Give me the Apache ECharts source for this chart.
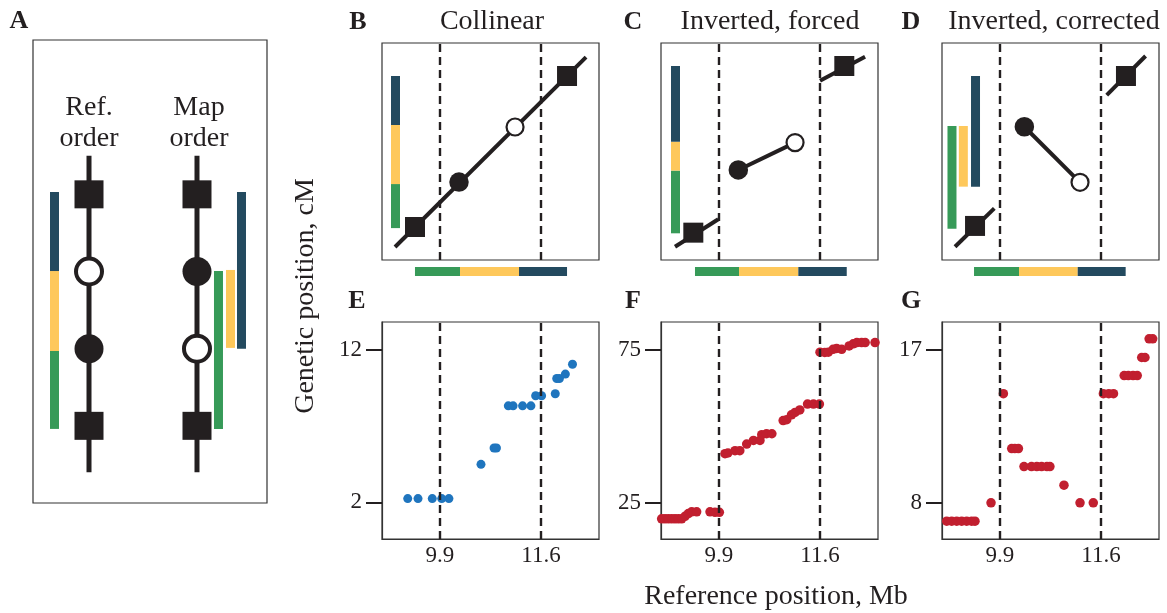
<!DOCTYPE html>
<html><head><meta charset="utf-8">
<script src="https://cdn.jsdelivr.net/npm/echarts@6/dist/echarts.min.js"></script>
<style>html,body{margin:0;padding:0;background:#fff}#c{width:1167px;height:613px}</style>
</head><body><div id="c"></div>
<script>
// ---------------- DATA ----------------
// Shared reference-position axis (Mb) and inversion breakpoints
const xMin = 8.924, xMax = 12.576;
const breakpoints = [9.9, 11.6];
const xTickValues = [9.9, 11.6];

// Panel A (schematic): columns, marker ranks, marker kinds, colored spans
const aColumnX = [1.436, 4.205];
const aMarkerY = [1, 2, 3, 4];
const aRefKinds = ['square', 'filled', 'open', 'square'];
const aMapKinds = ['square', 'open', 'filled', 'square'];
const aSpineY = [0.4, 4.5];
const aBars = [ // [x, yFrom, yTo, segment]
  [0.551, 0.96, 1.97, 'green'], [0.551, 1.97, 3.006, 'yellow'], [0.551, 3.006, 4.03, 'blue'],
  [4.756, 0.96, 3.006, 'green'], [5.064, 2.01, 3.02, 'yellow'], [5.346, 2.0, 4.03, 'blue']
];

// Panels B-D (schematics)
const topKinds = ['square', 'filled', 'open', 'square'];
const bLines = [[[9.143, 6.0], [12.358, 93.5]]];
const bMarkX = [9.479, 10.22, 11.163, 12.038];
const bMarkY = [15.2, 35.9, 61.3, 84.8];
const bSideBars = [[9.151, 14.7, 35.0, 'green'], [9.151, 35.0, 62.2, 'yellow'], [9.151, 62.2, 84.8, 'blue']];
const bBaseBars = [[-5.3, 9.479, 10.237, 'green'], [-5.3, 10.237, 11.23, 'yellow'], [-5.3, 11.23, 12.038, 'blue']];

const cLines = [[[9.16, 6.1], [9.888, 18.8]], [[10.225, 41.5], [11.18, 54.1]], [[11.60, 82.6], [12.358, 93.7]]];
const cMarkX = [9.468, 10.225, 11.18, 12.009];
const cMarkY = [12.6, 41.5, 54.1, 89.4];
const cSideBars = [[9.168, 12.3, 41.2, 'green'], [9.168, 41.2, 54.5, 'yellow'], [9.168, 54.5, 89.4, 'blue']];
const cBaseBars = [[-5.3, 9.496, 10.237, 'green'], [-5.3, 10.237, 11.235, 'yellow'], [-5.3, 11.235, 12.05, 'blue']];

const dLines = [[[9.143, 6.1], [9.804, 23.8]], [[10.31, 61.4], [11.247, 35.8]], [[11.696, 76.0], [12.35, 94.0]]];
const dMarkX = [9.48, 10.31, 11.247, 12.02];
const dMarkY = [15.7, 61.4, 35.8, 84.8];
const dSideBars = [[9.092, 14.4, 61.75, 'green'], [9.283, 33.8, 61.75, 'yellow'], [9.488, 33.8, 84.8, 'blue']];
const dBaseBars = [[-5.3, 9.463, 10.22, 'green'], [-5.3, 10.22, 11.208, 'yellow'], [-5.3, 11.208, 12.015, 'blue']];

// Panel E (collinear data)
const eX = [9.357, 9.53, 9.77, 9.929, 10.05, 10.59, 10.81, 10.85, 11.05, 11.13, 11.29, 11.43, 11.51, 11.61, 11.84, 11.865, 11.91, 12.01, 12.13];
const eY = [2.24, 2.24, 2.24, 2.24, 2.24, 4.49, 5.56, 5.56, 8.33, 8.33, 8.33, 8.33, 8.99, 8.99, 9.12, 10.12, 10.12, 10.41, 11.06];
const eYRange = [-0.41, 13.83];
const eYTicks = [2, 12];

// Panel F (inverted, forced)
const fX = [8.935, 8.991, 9.047, 9.104, 9.16, 9.216, 9.272, 9.328, 9.384, 9.44, 9.524, 9.749, 9.833, 9.906,
  10.001, 10.05, 10.17, 10.25, 10.366, 10.48, 10.59, 10.62, 10.70, 10.79, 10.98, 11.04, 11.12, 11.18, 11.26, 11.39, 11.49, 11.59,
  11.60, 11.68, 11.74, 11.82, 11.88, 11.965, 12.09, 12.16, 12.22, 12.30, 12.36, 12.526];
const fY = [19.8, 19.8, 19.8, 19.8, 19.8, 19.8, 19.8, 20.6, 21.5, 22.06, 22.06, 22.06, 21.9, 21.9,
  41.1, 41.3, 42.06, 42.06, 44.24, 45.4, 45.4, 47.3, 47.6, 47.6, 51.9, 52.2, 53.8, 54.55, 55.4, 57.3, 57.3, 57.3,
  74.25, 74.2, 74.25, 75.2, 75.5, 75.2, 76.3, 77.0, 77.4, 77.4, 77.4, 77.4];
const fYRange = [13.19, 84.13];
const fYTicks = [25, 75];

// Panel G (inverted, corrected)
const gX = [9.003, 9.087, 9.171, 9.255, 9.339, 9.423, 9.479, 9.749, 9.957,
  10.097, 10.15, 10.21, 10.304, 10.43, 10.52, 10.60, 10.69, 10.74, 10.977, 11.247, 11.47,
  11.64, 11.73, 11.81, 11.99, 12.06, 12.14, 12.21, 12.285, 12.34, 12.41, 12.47];
const gY = [6.92, 6.92, 6.92, 6.92, 6.92, 6.92, 6.92, 8.0, 14.42,
  11.19, 11.19, 11.19, 10.13, 10.13, 10.13, 10.13, 10.13, 10.13, 9.04, 8.0, 8.0,
  14.42, 14.42, 14.42, 15.49, 15.49, 15.49, 15.49, 16.55, 16.55, 17.65, 17.65];
const gYRange = [5.87, 18.64];
const gYTicks = [8, 17];

// Text
const panelLetters = ['A', 'B', 'C', 'D', 'E', 'F', 'G'];
const panelTitles = ['Collinear', 'Inverted, forced', 'Inverted, corrected'];
const aColumnTitles = [['Ref.', 'order'], ['Map', 'order']];
const yTitle = 'Genetic position, cM';
const xTitle = 'Reference position, Mb';

// ---------------- STYLE / LAYOUT ----------------
const FONT = 'Liberation Serif';
const INK = '#231f20';
const BOX = '#333333';
const SEG = { green: '#379a58', yellow: '#fec85b', blue: '#234a5f' };
const colLeft = [382, 661, 942], panelW = 217, panelH = 217;
const topRow = 43, botRow = 322;

const grids = [
  { left: 33, top: 40, width: 234, height: 463 },
  ...colLeft.map(l => ({ left: l, top: topRow, width: panelW, height: panelH })),
  ...colLeft.map(l => ({ left: l, top: botRow, width: panelW, height: panelH }))
].map(g => Object.assign(g, { show: true, borderColor: BOX, borderWidth: 1.2, backgroundColor: 'transparent', containLabel: false }));

const xAxes = [], yAxes = [];
// A
xAxes.push({ gridIndex: 0, type: 'value', min: 0, max: 6, show: false });
yAxes.push({ gridIndex: 0, type: 'value', min: 0, max: 6, show: false });
// B-D
for (let i = 1; i <= 3; i++) {
  xAxes.push({ gridIndex: i, type: 'value', min: xMin, max: xMax, show: false });
  yAxes.push({ gridIndex: i, type: 'value', min: 0, max: 100, show: false });
}
// E-G
const botRanges = [[eYRange, eYTicks], [fYRange, fYTicks], [gYRange, gYTicks]];
botRanges.forEach(([rng, ticks], k) => {
  const gi = 4 + k;
  xAxes.push({ gridIndex: gi, type: 'value', min: xMin, max: xMax,
    axisLine: { show: true, onZero: false, lineStyle: { color: BOX, width: 1.2 } },
    axisTick: { show: false },
    splitLine: { show: false },
    axisLabel: { show: true, customValues: xTickValues, margin: 5, color: INK, fontFamily: FONT, fontSize: 23,
      formatter: v => v.toFixed(1) } });
  yAxes.push({ gridIndex: gi, type: 'value', min: rng[0], max: rng[1],
    axisLine: { show: true, onZero: false, lineStyle: { color: BOX, width: 1.2 } },
    axisTick: { show: true, customValues: ticks, length: 16, lineStyle: { color: INK, width: 2 } },
    splitLine: { show: false },
    axisLabel: { show: true, customValues: ticks, margin: 20, color: INK, fontFamily: FONT, fontSize: 23 } });
});

const series = [];
const dashLine = {
  silent: true, symbol: ['none', 'none'], animation: false,
  label: { show: false },
  lineStyle: { type: [8, 5], width: 2.4, color: INK },
  data: breakpoints.map(b => ({ xAxis: b }))
};

function barSeries(gi, bars, vertical, thick) {
  series.push({
    type: 'custom', xAxisIndex: gi, yAxisIndex: gi, clip: false, silent: true, z: 3,
    data: bars.map(b => [b[0], b[1], b[2]]),
    renderItem: (params, api) => {
      const b = bars[params.dataIndex];
      let rect;
      if (vertical) {
        const p1 = api.coord([b[0], b[1]]), p2 = api.coord([b[0], b[2]]);
        rect = { x: p1[0] - thick / 2, y: Math.min(p1[1], p2[1]), width: thick, height: Math.abs(p1[1] - p2[1]) };
      } else {
        const p1 = api.coord([b[1], b[0]]), p2 = api.coord([b[2], b[0]]);
        rect = { x: Math.min(p1[0], p2[0]), y: p1[1] - thick / 2, width: Math.abs(p2[0] - p1[0]), height: thick };
      }
      return { type: 'rect', shape: rect, style: { fill: SEG[b[3]] } };
    }
  });
}

function lineSeg(gi, pts, width, extra) {
  series.push(Object.assign({
    type: 'line', xAxisIndex: gi, yAxisIndex: gi, data: pts, symbol: 'none', silent: true,
    lineStyle: { color: INK, width: width, cap: 'butt' }, z: 4, animation: false
  }, extra || {}));
}

function markerSeries(gi, xs, ys, kinds, sq, circ, openSize, openBorder) {
  const pick = k => xs.map((x, i) => kinds[i] === k ? [x, ys[i]] : null).filter(Boolean);
  series.push({ type: 'scatter', xAxisIndex: gi, yAxisIndex: gi, data: pick('square'), symbol: 'rect',
    symbolSize: sq, itemStyle: { color: INK, opacity: 1 }, z: 5, silent: true, clip: false });
  series.push({ type: 'scatter', xAxisIndex: gi, yAxisIndex: gi, data: pick('filled'), symbol: 'circle',
    symbolSize: circ, itemStyle: { color: INK, opacity: 1 }, z: 5, silent: true, clip: false });
  series.push({ type: 'scatter', xAxisIndex: gi, yAxisIndex: gi, data: pick('open'), symbol: 'circle',
    symbolSize: openSize, itemStyle: { color: '#fff', borderColor: INK, borderWidth: openBorder, opacity: 1 }, z: 5, silent: true, clip: false });
}

// Panel A
barSeries(0, aBars, true, 9);
aColumnX.forEach(x => lineSeg(0, aSpineY.map(y => [x, y]), 5));
markerSeries(0, aMarkerY.map(() => aColumnX[0]), aMarkerY, aRefKinds, [29, 28], 29, 26, 4);
markerSeries(0, aMarkerY.map(() => aColumnX[1]), aMarkerY, aMapKinds, [29, 28], 29, 26, 4);

// Panels B-D
const tops = [
  [bLines, bMarkX, bMarkY, bSideBars, bBaseBars],
  [cLines, cMarkX, cMarkY, cSideBars, cBaseBars],
  [dLines, dMarkX, dMarkY, dSideBars, dBaseBars]
];
tops.forEach(([lines, mx, my, side, base], k) => {
  const gi = 1 + k;
  lineSeg(gi, [[xMin, -1000], [xMin, -1001]], 0.01, { markLine: dashLine, lineStyle: { opacity: 0 } });
  barSeries(gi, side, true, 9);
  barSeries(gi, base, false, 9);
  lines.forEach(l => lineSeg(gi, l, 4));
  markerSeries(gi, mx, my, topKinds, 20, 19.5, 17, 2.2);
});

// Panels E-G
const bots = [[eX, eY, '#1f75be', 9], [fX, fY, '#c11f2f', 9.5], [gX, gY, '#c11f2f', 9.5]];
bots.forEach(([xs, ys, col, sz], k) => {
  const gi = 4 + k;
  series.push({ type: 'scatter', xAxisIndex: gi, yAxisIndex: gi, silent: true,
    data: xs.map((x, i) => [x, ys[i]]), symbol: 'circle', symbolSize: sz,
    itemStyle: { color: col, opacity: 1 }, z: 4, markLine: dashLine });
});

// Text graphics
const txt = (x, y, text, size, weight, extra) => Object.assign({
  type: 'text', x, y, silent: true,
  style: { text, fill: INK, font: (weight || 'normal') + ' ' + size + 'px "' + FONT + '"', align: 'center', verticalAlign: 'middle' }
}, extra || {});
const letterPos = [[19, 21], [358, 22], [633, 22], [911, 22], [357, 301], [633, 301], [911, 301]];
const titlePos = [[492, 22], [770, 22], [1054, 22]];
const graphics = [];
panelLetters.forEach((l, i) => graphics.push(txt(letterPos[i][0], letterPos[i][1], l, 26, 'bold')));
panelTitles.forEach((t, i) => graphics.push(txt(titlePos[i][0], titlePos[i][1], t, 28)));
const aTitleX = [89, 199];
aColumnTitles.forEach((lines, i) => {
  graphics.push(txt(aTitleX[i], 107.5, lines[0], 28));
  graphics.push(txt(aTitleX[i], 138.5, lines[1], 28));
});
graphics.push(txt(306, 296, yTitle, 28, 'normal', { rotation: Math.PI / 2 }));
graphics.push(txt(776, 597, xTitle, 28));

const chart = echarts.init(document.getElementById('c'), null, { renderer: 'canvas' });
chart.setOption({
  animation: false,
  backgroundColor: '#fff',
  textStyle: { fontFamily: FONT },
  grid: grids, xAxis: xAxes, yAxis: yAxes, series: series, graphic: graphics
});
</script></body></html>
